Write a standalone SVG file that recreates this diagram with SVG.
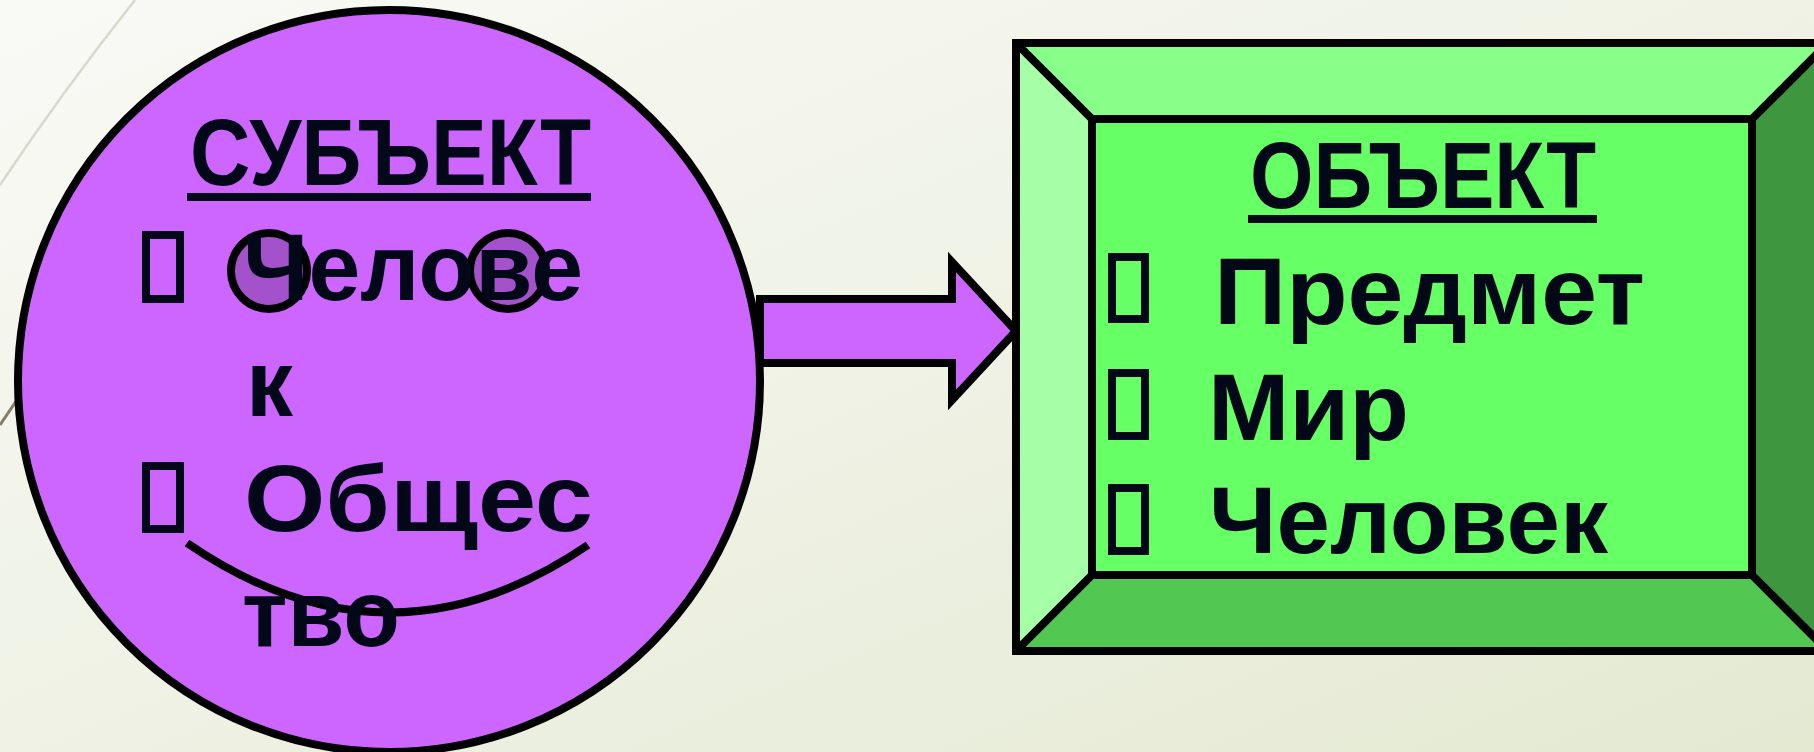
<svg xmlns="http://www.w3.org/2000/svg" width="1814" height="752" viewBox="0 0 1814 752">
  <defs>
    <linearGradient id="bg" x1="0" y1="0" x2="1" y2="1">
      <stop offset="0" stop-color="#F9FAF6"/>
      <stop offset="1" stop-color="#E4E9D2"/>
    </linearGradient>
    <style>
      .ol { stroke: #000; stroke-width: 8; stroke-linejoin: miter; }
      .edge { stroke: #000; stroke-width: 8; fill: none; }
      .txt { font-family: "Liberation Sans", Arial, sans-serif; font-weight: bold; font-size: 94px; fill: #020817; }
      .bul { fill: none; stroke: #020817; stroke-width: 8; }
      .eye { fill: #A352CC; stroke: #000; stroke-width: 8; }
    </style>
  </defs>

  <rect x="0" y="0" width="1814" height="752" fill="url(#bg)"/>
  <g id="decor" fill="none">
    <path d="M0,185 Q62,92 135,0" stroke="#D8D8CC" stroke-width="2.5"/>
    <path d="M0,425 L40,366" stroke="#857C68" stroke-width="3"/>
  </g>

  <g id="node-subject">
    <circle cx="389" cy="381" r="371" fill="#CC66FF" class="ol"/>
    <circle cx="269" cy="271" r="38" class="eye"/>
    <circle cx="508" cy="271" r="38" class="eye"/>
    <path d="M187,543 Q388,681 588,545" fill="none" stroke="#000" stroke-width="8"/>
    <text class="txt" x="190" y="185" textLength="401" lengthAdjust="spacingAndGlyphs">СУБЪЕКТ</text>
    <rect x="187" y="193" width="404" height="8" fill="#020817"/>
    <rect x="146" y="235" width="34" height="64" class="bul"/>
    <text class="txt" x="243" y="300" textLength="340" lengthAdjust="spacingAndGlyphs">Челове</text>
    <text class="txt" x="246" y="416" textLength="47" lengthAdjust="spacingAndGlyphs">к</text>
    <rect x="146" y="466" width="34" height="63" class="bul"/>
    <text class="txt" x="244" y="531" textLength="349" lengthAdjust="spacingAndGlyphs">Общес</text>
    <text class="txt" x="242" y="646" textLength="158" lengthAdjust="spacingAndGlyphs">тво</text>
  </g>

  <g id="connectors">
    <polygon points="760,299 952,299 952,262 1016,331 952,400 952,363 760,363" fill="#CC66FF" class="ol"/>
  </g>

  <g id="node-object">
    <polygon points="1016,43 1828,43 1752,119 1092,119" fill="#88FF88"/>
    <polygon points="1016,43 1092,119 1092,575 1016,651" fill="#A6FFA6"/>
    <polygon points="1828,43 1828,651 1752,575 1752,119" fill="#3E963E"/>
    <polygon points="1016,651 1092,575 1752,575 1828,651" fill="#52C852"/>
    <rect x="1092" y="119" width="660" height="456" fill="#66FF66"/>
    <path d="M1016,43 L1092,119 M1828,43 L1752,119 M1016,651 L1092,575 M1828,651 L1752,575" class="edge"/>
    <rect x="1016" y="43" width="812" height="608" class="edge"/>
    <rect x="1092" y="119" width="660" height="456" class="edge"/>
    <text class="txt" x="1250" y="208" textLength="346" lengthAdjust="spacingAndGlyphs">ОБЪЕКТ</text>
    <rect x="1248" y="215" width="349" height="8" fill="#020817"/>
    <rect x="1112" y="257" width="33" height="62" class="bul"/>
    <text class="txt" x="1214" y="324" textLength="431" lengthAdjust="spacingAndGlyphs">Предмет</text>
    <rect x="1112" y="373" width="33" height="63" class="bul"/>
    <text class="txt" x="1208" y="440" textLength="201" lengthAdjust="spacingAndGlyphs">Мир</text>
    <rect x="1112" y="488" width="33" height="63" class="bul"/>
    <text class="txt" x="1209" y="553" textLength="399" lengthAdjust="spacingAndGlyphs">Человек</text>
  </g>
</svg>
